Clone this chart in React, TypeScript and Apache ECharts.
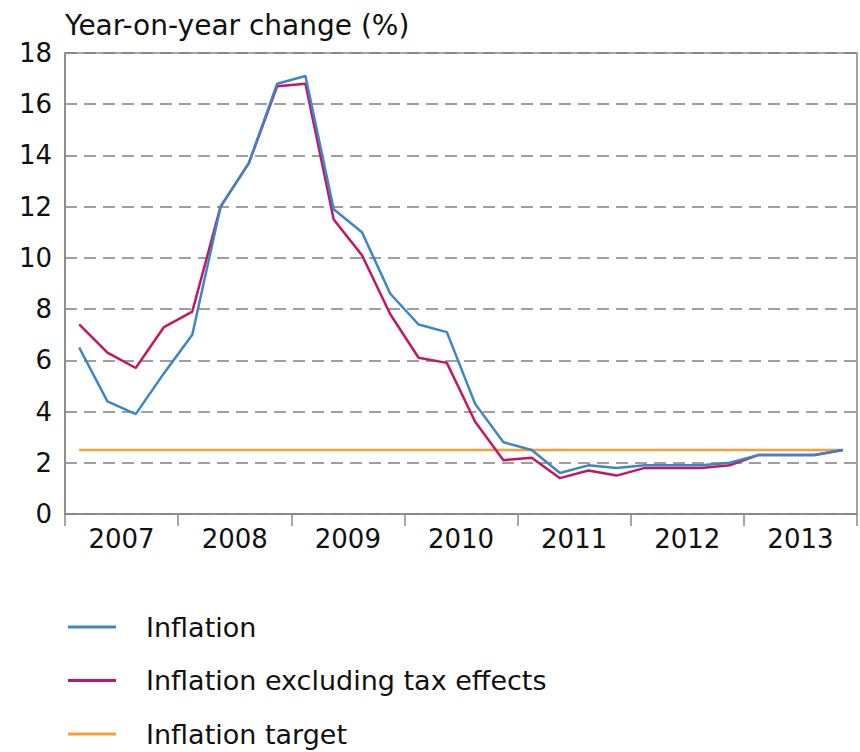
import React, { useEffect, useRef } from "react";
import * as echarts from "echarts";

const years = ["2007", "2008", "2009", "2010", "2011", "2012", "2013"];
const quarters = years.flatMap((y) => ["Q1", "Q2", "Q3", "Q4"].map((q) => `${y} ${q}`));
const inflation = [6.5, 4.4, 3.9, 5.5, 7.0, 12.0, 13.7, 16.8, 17.1, 11.9, 11.0, 8.6, 7.4, 7.1, 4.3, 2.8, 2.5, 1.6, 1.9, 1.8, 1.9, 1.9, 1.9, 2.0, 2.3, 2.3, 2.3, 2.5];
const inflationExTax = [7.4, 6.3, 5.7, 7.3, 7.9, 12.0, 13.7, 16.7, 16.8, 11.5, 10.1, 7.8, 6.1, 5.9, 3.6, 2.1, 2.2, 1.4, 1.7, 1.5, 1.8, 1.8, 1.8, 1.9, 2.3, 2.3, 2.3, 2.5];
const inflationTarget = quarters.map(() => 2.5);

const FONT = "'DejaVu Sans', sans-serif";

export default function App() {
  const ref = useRef<HTMLDivElement>(null);
  useEffect(() => {
    const chart = echarts.init(ref.current!, undefined, { renderer: "svg" });
    chart.setOption({
      animation: false,
      backgroundColor: "#ffffff",
      title: {
        text: "Year-on-year change (%)",
        left: 60,
        top: 6,
        textStyle: { fontFamily: FONT, fontSize: 28, fontWeight: "normal", color: "#111" },
      },
      grid: {
        left: 65,
        right: 3,
        top: 53,
        bottom: 238,
        show: true,
        borderColor: "#888",
        borderWidth: 1.5,
      },
      xAxis: [
        {
          type: "category",
          data: quarters,
          boundaryGap: true,
          show: false,
        },
        {
          type: "category",
          data: years,
          position: "bottom",
          boundaryGap: true,
          axisLine: { show: true, lineStyle: { color: "#888", width: 1.5 } },
          axisTick: { show: true, length: 12, lineStyle: { color: "#888", width: 1.5 } },
          axisLabel: { fontFamily: FONT, fontSize: 26, color: "#111", margin: 12 },
        },
      ],
      yAxis: {
        type: "value",
        min: 0,
        max: 18,
        interval: 2,
        axisLine: { show: true, lineStyle: { color: "#888", width: 1.5 } },
        axisTick: { show: false },
        axisLabel: { fontFamily: FONT, fontSize: 26, color: "#111", margin: 13 },
        splitLine: { show: true, lineStyle: { color: "#808080", width: 1.5, type: [12, 7] } },
      },
      legend: {
        orient: "vertical",
        left: 68,
        top: 611,
        padding: 0,
        itemWidth: 48,
        itemHeight: 3,
        itemGap: 21.5,
        icon: "rect",
        textStyle: { fontFamily: FONT, fontSize: 27, color: "#111", padding: [0, 0, 0, 25], lineHeight: 32 },
        data: ["Inflation", "Inflation excluding tax effects", "Inflation target"],
      },
      series: [
        {
          name: "Inflation target",
          type: "line",
          xAxisIndex: 0,
          data: inflationTarget,
          showSymbol: false,
          symbol: "none",
          lineStyle: { color: "#f7a035", width: 2.5 },
          itemStyle: { color: "#f7a035" },
          z: 1,
        },
        {
          name: "Inflation excluding tax effects",
          type: "line",
          xAxisIndex: 0,
          data: inflationExTax,
          showSymbol: false,
          symbol: "none",
          lineStyle: { color: "#c4175f", width: 2.5 },
          itemStyle: { color: "#c4175f" },
          z: 2,
        },
        {
          name: "Inflation",
          type: "line",
          xAxisIndex: 0,
          data: inflation,
          showSymbol: false,
          symbol: "none",
          lineStyle: { color: "#3a86c8", width: 2.5 },
          itemStyle: { color: "#3a86c8" },
          z: 3,
        },
      ],
    });
    return () => chart.dispose();
  }, []);
  return <div ref={ref} style={{ position: "absolute", left: 0, top: 0, width: 860, height: 752 }} />;
}
